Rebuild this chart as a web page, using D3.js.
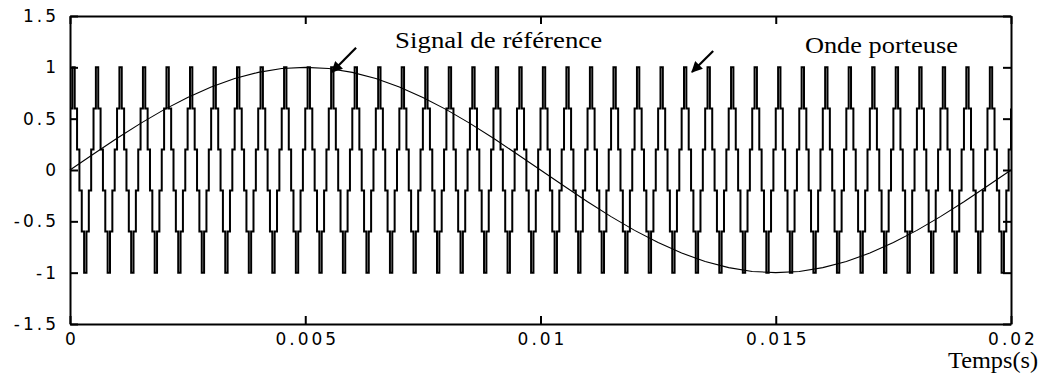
<!DOCTYPE html>
<html>
<head>
<meta charset="utf-8">
<script src="https://cdn.jsdelivr.net/npm/d3@7"></script>
<style>
  body { margin: 0; background: #fff; }
  .axis text { font-family: "DejaVu Sans", sans-serif; font-size: 17px; letter-spacing: 3px; fill: #000; }
  .axis path, .axis line { stroke: #000; stroke-width: 2; }
  .lbl { font-family: "Liberation Serif", "Times New Roman", serif; fill: #000; }
</style>
</head>
<body>
<div id="chart"></div>
<script>
var refTimeStep = 0.0005;
var refValues = [0, 0.156, 0.309, 0.454, 0.588, 0.707, 0.809, 0.891, 0.951, 0.988,
  1, 0.988, 0.951, 0.891, 0.809, 0.707, 0.588, 0.454, 0.309, 0.156,
  0, -0.156, -0.309, -0.454, -0.588, -0.707, -0.809, -0.891, -0.951, -0.988,
  -1, -0.988, -0.951, -0.891, -0.809, -0.707, -0.588, -0.454, -0.309, -0.156, 0];

// carrier (stepped triangle), sampled every 0.00005 s
var carrierTimeStep = 0.00005;
var carrierValues = [
  0.6,1,0.6,0.2,-0.2,-0.6,-1,-0.6,-0.2,0.2, 0.6,1,0.6,0.2,-0.2,-0.6,-1,-0.6,-0.2,0.2, 0.6,1,0.6,0.2,-0.2,-0.6,-1,-0.6,-0.2,0.2, 0.6,1,0.6,0.2,-0.2,-0.6,-1,-0.6,-0.2,0.2, 0.6,1,0.6,0.2,-0.2,-0.6,-1,-0.6,-0.2,0.2,
  0.6,1,0.6,0.2,-0.2,-0.6,-1,-0.6,-0.2,0.2, 0.6,1,0.6,0.2,-0.2,-0.6,-1,-0.6,-0.2,0.2, 0.6,1,0.6,0.2,-0.2,-0.6,-1,-0.6,-0.2,0.2, 0.6,1,0.6,0.2,-0.2,-0.6,-1,-0.6,-0.2,0.2, 0.6,1,0.6,0.2,-0.2,-0.6,-1,-0.6,-0.2,0.2,
  0.6,1,0.6,0.2,-0.2,-0.6,-1,-0.6,-0.2,0.2, 0.6,1,0.6,0.2,-0.2,-0.6,-1,-0.6,-0.2,0.2, 0.6,1,0.6,0.2,-0.2,-0.6,-1,-0.6,-0.2,0.2, 0.6,1,0.6,0.2,-0.2,-0.6,-1,-0.6,-0.2,0.2, 0.6,1,0.6,0.2,-0.2,-0.6,-1,-0.6,-0.2,0.2,
  0.6,1,0.6,0.2,-0.2,-0.6,-1,-0.6,-0.2,0.2, 0.6,1,0.6,0.2,-0.2,-0.6,-1,-0.6,-0.2,0.2, 0.6,1,0.6,0.2,-0.2,-0.6,-1,-0.6,-0.2,0.2, 0.6,1,0.6,0.2,-0.2,-0.6,-1,-0.6,-0.2,0.2, 0.6,1,0.6,0.2,-0.2,-0.6,-1,-0.6,-0.2,0.2,
  0.6,1,0.6,0.2,-0.2,-0.6,-1,-0.6,-0.2,0.2, 0.6,1,0.6,0.2,-0.2,-0.6,-1,-0.6,-0.2,0.2, 0.6,1,0.6,0.2,-0.2,-0.6,-1,-0.6,-0.2,0.2, 0.6,1,0.6,0.2,-0.2,-0.6,-1,-0.6,-0.2,0.2, 0.6,1,0.6,0.2,-0.2,-0.6,-1,-0.6,-0.2,0.2,
  0.6,1,0.6,0.2,-0.2,-0.6,-1,-0.6,-0.2,0.2, 0.6,1,0.6,0.2,-0.2,-0.6,-1,-0.6,-0.2,0.2, 0.6,1,0.6,0.2,-0.2,-0.6,-1,-0.6,-0.2,0.2, 0.6,1,0.6,0.2,-0.2,-0.6,-1,-0.6,-0.2,0.2, 0.6,1,0.6,0.2,-0.2,-0.6,-1,-0.6,-0.2,0.2,
  0.6,1,0.6,0.2,-0.2,-0.6,-1,-0.6,-0.2,0.2, 0.6,1,0.6,0.2,-0.2,-0.6,-1,-0.6,-0.2,0.2, 0.6,1,0.6,0.2,-0.2,-0.6,-1,-0.6,-0.2,0.2, 0.6,1,0.6,0.2,-0.2,-0.6,-1,-0.6,-0.2,0.2, 0.6,1,0.6,0.2,-0.2,-0.6,-1,-0.6,-0.2,0.2,
  0.6,1,0.6,0.2,-0.2,-0.6,-1,-0.6,-0.2,0.2, 0.6,1,0.6,0.2,-0.2,-0.6,-1,-0.6,-0.2,0.2, 0.6,1,0.6,0.2,-0.2,-0.6,-1,-0.6,-0.2,0.2, 0.6,1,0.6,0.2,-0.2,-0.6,-1,-0.6,-0.2,0.2, 0.6,1,0.6,0.2,-0.2,-0.6,-1,-0.6,-0.2,0.2,
  0.6];

var xTicks = [0, 0.005, 0.01, 0.015, 0.02];
var xTickLabels = ["0", "0.005", "0.01", "0.015", "0.02"];
var yTicks = [-1.5, -1, -0.5, 0, 0.5, 1, 1.5];
var yTickLabels = ["-1.5", "-1", "-0.5", "0", "0.5", "1", "1.5"];

// annotations: text start position (data units) and arrow tail -> tip
var annotations = [
  { text: "Signal de référence", tx: 0.00691, ty: 1.19, t0: 0.00608, v0: 1.19, t1: 0.00557, v1: 0.955 },
  { text: "Onde porteuse", tx: 0.01562, ty: 1.14, t0: 0.01367, v0: 1.16, t1: 0.01322, v1: 0.955 }
];

var margin = { top: 16, right: 35, bottom: 59, left: 70 },
  width = 1046 - margin.left - margin.right,
  height = 383 - margin.top - margin.bottom;

var x = d3.scaleLinear().domain([0, 0.02]).range([0, width]);
var y = d3.scaleLinear().domain([-1.5, 1.5]).range([height, 0]);

var svg = d3.select("#chart").append("svg")
  .attr("width", 1046).attr("height", 383)
  .append("g")
  .attr("transform", "translate(" + margin.left + "," + margin.top + ")");

var defs = svg.append("defs");
defs.append("marker").attr("id", "arrow")
  .attr("viewBox", "0 0 10 10").attr("refX", 9).attr("refY", 5)
  .attr("markerWidth", 13).attr("markerHeight", 11).attr("orient", "auto")
  .attr("markerUnits", "userSpaceOnUse")
  .append("path").attr("d", "M0,0 L10,5 L0,10 z").attr("fill", "#000");

defs.append("clipPath").attr("id", "clip")
  .append("rect").attr("width", width).attr("height", height);

// carrier
var carrier = carrierValues.map(function (v, i) { return { t: i * carrierTimeStep, v: v }; });
svg.append("path").datum(carrier)
  .attr("clip-path", "url(#clip)")
  .attr("fill", "none").attr("stroke", "#000").attr("stroke-width", 2)
  .attr("d", d3.line().curve(d3.curveStepAfter)
    .x(function (d) { return x(d.t); }).y(function (d) { return y(d.v); }));

// reference sine
var ref = refValues.map(function (v, i) { return { t: i * refTimeStep, v: v }; });
svg.append("path").datum(ref)
  .attr("fill", "none").attr("stroke", "#000").attr("stroke-width", 1.1)
  .attr("d", d3.line()
    .x(function (d) { return x(d.t); }).y(function (d) { return y(d.v); }));

// axes (matlab style box, inward ticks)
svg.append("g").attr("class", "axis")
  .attr("transform", "translate(0," + height + ")")
  .call(d3.axisBottom(x).tickValues(xTicks).tickSizeInner(-8).tickSizeOuter(0).tickPadding(9)
    .tickFormat(function (d, i) { return xTickLabels[i]; }))
  .selectAll("text").attr("dx", "1.5px");

svg.append("g").attr("class", "axis")
  .call(d3.axisLeft(y).tickValues(yTicks).tickSizeInner(-8).tickSizeOuter(0).tickPadding(11)
    .tickFormat(function (d, i) { return yTickLabels[i]; }))
  .select(".domain").attr("stroke-width", 2.6);

svg.append("g").attr("class", "axis")
  .call(d3.axisTop(x).tickValues(xTicks).tickSizeInner(-8).tickSizeOuter(0).tickFormat(""));

svg.append("g").attr("class", "axis")
  .attr("transform", "translate(" + width + ",0)")
  .call(d3.axisRight(y).tickValues(yTicks).tickSizeInner(-8).tickSizeOuter(0).tickFormat(""));

// x label
svg.append("text").attr("class", "lbl")
  .attr("x", width - 63).attr("y", height + 44)
  .attr("font-size", "23px")
  .attr("textLength", 90).attr("lengthAdjust", "spacingAndGlyphs")
  .text("Temps(s)");

// annotations
var labelWidths = [207, 153];
annotations.forEach(function (a, i) {
  svg.append("text").attr("class", "lbl")
    .attr("x", x(a.tx)).attr("y", y(a.ty))
    .attr("font-size", "23px")
    .attr("textLength", labelWidths[i]).attr("lengthAdjust", "spacingAndGlyphs")
    .text(a.text);
  svg.append("line")
    .attr("x1", x(a.t0)).attr("y1", y(a.v0))
    .attr("x2", x(a.t1)).attr("y2", y(a.v1))
    .attr("stroke", "#000").attr("stroke-width", 2.2)
    .attr("marker-end", "url(#arrow)");
});
</script>
</body>
</html>
